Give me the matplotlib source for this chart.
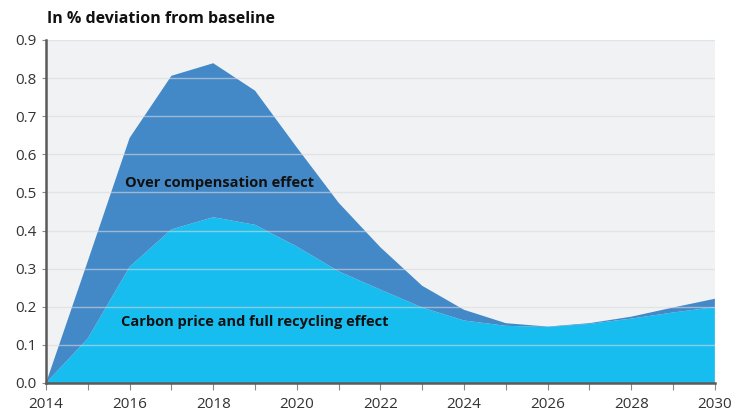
import numpy as np
import matplotlib.pyplot as plt
from matplotlib.ticker import MultipleLocator

plt.rcParams['font.family'] = ['Open Sans', 'DejaVu Sans']

# ============================================================================
# DATA
# ============================================================================

years = [2014, 2015, 2016, 2017, 2018, 2019, 2020, 2021, 2022,
         2023, 2024, 2025, 2026, 2027, 2028, 2029, 2030]

# Carbon price and full recycling effect (lower band)
carbon_price = [0.0, 0.117, 0.305, 0.403, 0.435, 0.415, 0.358, 0.293, 0.245,
                0.198, 0.164, 0.150, 0.147, 0.155, 0.169, 0.185, 0.199]

# Total (upper edge of the over-compensation band)
total = [0.0, 0.32, 0.643, 0.806, 0.839, 0.767, 0.618, 0.473, 0.356,
         0.255, 0.192, 0.157, 0.148, 0.157, 0.174, 0.198, 0.221]

over_comp = [t - c for t, c in zip(total, carbon_price)]

LIGHT = '#17bdee'
DARK = '#4489c7'
BG = '#f1f2f4'

# ============================================================================
# PLOT
# ============================================================================

fig = plt.figure(figsize=(7.4, 4.12), dpi=100)
ax = fig.add_axes([0.0622, 0.0704, 0.9038, 0.8326])
ax.set_facecolor(BG)

ax.stackplot(years, carbon_price, over_comp, colors=[LIGHT, DARK],
             linewidth=0, zorder=2)

ax.set_xlim(2014, 2030)
ax.set_ylim(0, 0.9)
ax.xaxis.set_major_locator(MultipleLocator(2))
ax.xaxis.set_minor_locator(MultipleLocator(1))
ax.yaxis.set_major_locator(MultipleLocator(0.1))
ax.yaxis.set_major_formatter(plt.FuncFormatter(lambda v, p: f'{v:.1f}'))

# gridlines drawn on top of the areas, slightly see-through
ax.grid(axis='y', color='#d8d9dd', linewidth=1.0, alpha=0.6, zorder=3)
ax.set_axisbelow(False)

for s in ['top', 'right']:
    ax.spines[s].set_visible(False)
for s in ['left', 'bottom']:
    ax.spines[s].set_color('#5a5a5a')
    ax.spines[s].set_linewidth(1.8)
    ax.spines[s].set_zorder(4)

ax.tick_params(axis='both', which='both', colors='#8a8a8a', labelcolor='#333333',
               labelsize=11)
ax.tick_params(axis='x', which='major', length=5, width=0.8, pad=5)
ax.tick_params(axis='x', which='minor', length=5, width=0.8)
ax.tick_params(axis='y', which='major', length=3, width=0.8, pad=4)

ax.text(2015.9, 0.525, 'Over compensation effect', fontsize=10.5,
        fontweight='bold', color='#111111', va='center', zorder=5)
ax.text(2015.8, 0.16, 'Carbon price and full recycling effect', fontsize=10.5,
        fontweight='bold', color='#111111', va='center', zorder=5)

fig.text(0.064, 0.955, 'In % deviation from baseline', fontsize=11.5,
         fontweight='bold', color='#111111', va='center')

fig.savefig('out.png', dpi=100)
